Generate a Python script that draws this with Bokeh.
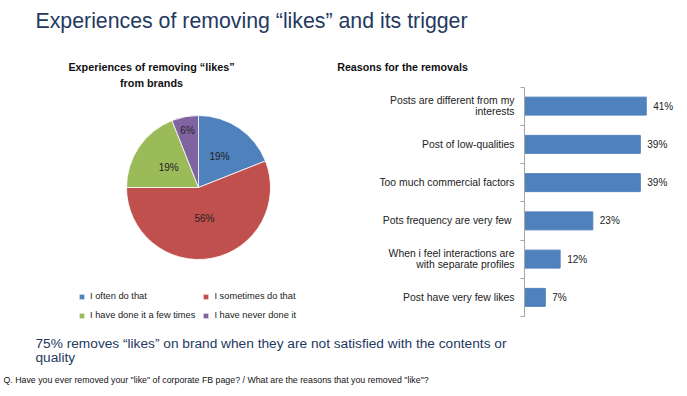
import numpy as np
from bokeh.plotting import figure
from bokeh.models import Range1d, Label, Legend, LegendItem, LinearAxis, FixedTicker, ColumnDataSource
from bokeh.layouts import column, row
from bokeh.embed import file_html
from bokeh.resources import INLINE
from bokeh.core.properties import value

# ---------------- data ----------------
TITLE = "Experiences of removing “likes” and its trigger"
PIE_TITLE = ["Experiences of removing “likes”", "from brands"]
PIE_LABELS = ["I often do that", "I sometimes do that",
              "I have done it a few times", "I have never done it"]
PIE_VALUES = [19, 56, 19, 6]
BAR_TITLE = "Reasons for the removals"
BAR_CATEGORIES = ["Posts are different from my\ninterests",
                  "Post of low-qualities",
                  "Too much commercial factors",
                  "Pots frequency are very few ",
                  "When i feel interactions are\nwith separate profiles",
                  "Post have very few likes"]
BAR_VALUES = [41, 39, 39, 23, 12, 7]
CONCLUSION = ["75% removes “likes” on brand when they are not satisfied with the contents or",
              "quality"]
QUESTION = 'Q. Have you ever removed your "like" of corporate FB page? / What are the reasons that you removed "like"?'

# ---------------- style / layout ----------------
PIE_COLORS = ["#4F81BD", "#C0504D", "#9BBB59", "#8064A2"]
BAR_COLOR = "#4F81BD"
NAVY = "#24395f"
TXT = "#222222"
SANS = "Liberation Sans"
LABEL_R = [0.52, 0.44, 0.5, 0.81]
W = 679
PIE_W = 330
TOP_H, ROW_H, FOOT_H = 76, 254, 58
ROW_BOTTOM = TOP_H + ROW_H          # image y of the row's bottom edge
AXIS_X = 524                        # image x of the bar axis
CAT_TOP, CAT_BOTTOM = 86.5, 316     # image y extent of the category band
X_END = 52.2


def blank(w, h, xr, yr):
    p = figure(width=w, height=h, x_range=xr, y_range=yr,
               x_axis_location=None, y_axis_location=None,
               output_backend="svg", toolbar_location=None,
               min_border=0, outline_line_color=None)
    p.grid.visible = False
    return p


def label(x, y, text, size, color, bold=False, align="left"):
    return Label(x=x, y=y, text=text, text_font=SANS,
                 text_font_style="bold" if bold else "normal",
                 text_font_size=size, text_color=color,
                 text_align=align, text_baseline="middle")

# ---------------- header (titles) ----------------
head = blank(W, TOP_H, Range1d(0, W), Range1d(TOP_H, 0))
head.add_layout(label(35, 20.7, TITLE, "21.3px", NAVY))
head.add_layout(label(151, 66.2, PIE_TITLE[0], "10.8px", "#111111", True, "center"))
head.add_layout(label(402, 66.5, BAR_TITLE, "10.7px", "#111111", True, "center"))

# ---------------- pie ----------------
pie = blank(PIE_W, ROW_H, Range1d(0, PIE_W), Range1d(0, ROW_H))
cx, cy, R = 198, ROW_BOTTOM - 187, 72
vals = np.array(PIE_VALUES, dtype=float)
frac = vals / vals.sum()
cum = np.concatenate([[0], np.cumsum(frac)])
start = np.pi / 2 - 2 * np.pi * cum[:-1]
end = np.pi / 2 - 2 * np.pi * cum[1:]
mid = (start + end) / 2
src = ColumnDataSource(dict(start=start, end=end, color=PIE_COLORS, label=PIE_LABELS))
wr = pie.wedge(x=cx, y=cy, radius=R, start_angle="start", end_angle="end",
               direction="clock", fill_color="color", line_color="white",
               line_width=0.8, source=src)
lab_src = ColumnDataSource(dict(
    x=cx + R * np.array(LABEL_R) * np.cos(mid),
    y=cy + R * np.array(LABEL_R) * np.sin(mid),
    t=[f"{v:g}%" for v in PIE_VALUES]))
pie.text(x="x", y="y", text="t", source=lab_src, text_align="center",
         text_baseline="middle", text_font=value(SANS),
         text_font_size="10px", text_color=TXT)
pie.add_layout(label(151, ROW_BOTTOM - 82.8, PIE_TITLE[1], "10.8px", "#111111", True, "center"))
legend = Legend(items=[LegendItem(label=l, renderers=[wr], index=i)
                       for i, l in enumerate(PIE_LABELS)],
                orientation="horizontal", ncols=2, location=(78, ROW_BOTTOM - 321),
                glyph_width=7, glyph_height=7, label_standoff=5,
                spacing=7, label_height=12, padding=0, margin=0,
                border_line_color=None, background_fill_alpha=0,
                label_text_font=SANS, label_text_font_size="9.3px",
                label_text_color=TXT)
pie.add_layout(legend)

# ---------------- bars ----------------
n = len(BAR_CATEGORIES)
ys = [n - 0.5 - i for i in range(n)]
ppu = (CAT_BOTTOM - CAT_TOP) / n
y_start = -(ROW_BOTTOM - CAT_BOTTOM) / ppu
y_end = n + (CAT_TOP - TOP_H) / ppu
bar = figure(width=W - PIE_W, height=ROW_H, x_range=Range1d(0, X_END),
             y_range=Range1d(y_start, y_end),
             x_axis_location=None, y_axis_location=None,
             output_backend="svg", toolbar_location=None,
             min_border_left=AXIS_X - PIE_W, min_border_right=0,
             min_border_top=0, min_border_bottom=0, outline_line_color=None)
bar.grid.visible = False
bsrc = ColumnDataSource(dict(y=ys, v=BAR_VALUES, t=[f"{v}%" for v in BAR_VALUES]))
bar.hbar(y="y", left=0, right="v", height=0.47, source=bsrc,
         fill_color=BAR_COLOR, line_color=BAR_COLOR)
bar.text(x="v", y="y", text="t", source=bsrc, x_offset=7,
         text_baseline="middle", text_font=value(SANS),
         text_font_size="10px", text_color=TXT)
yaxis = LinearAxis(ticker=FixedTicker(ticks=ys, minor_ticks=list(range(n + 1))),
                   bounds=(0, n),
                   major_label_overrides={y: c for y, c in zip(ys, BAR_CATEGORIES)},
                   major_tick_line_color=None, major_tick_out=0, major_tick_in=0,
                   minor_tick_out=4, minor_tick_in=0,
                   minor_tick_line_color="#a6a6a6", axis_line_color="#a6a6a6",
                   major_label_standoff=6, major_label_text_font=SANS,
                   major_label_text_font_size="10.4px",
                   major_label_text_line_height=1.05,
                   major_label_text_color=TXT)
bar.add_layout(yaxis, "left")

# ---------------- footer ----------------
foot = blank(W, FOOT_H, Range1d(0, W), Range1d(ROW_BOTTOM + FOOT_H, ROW_BOTTOM))
foot.add_layout(label(35, 343.3, CONCLUSION[0], "13.7px", NAVY))
foot.add_layout(label(35, 356.5, CONCLUSION[1], "13.7px", NAVY))
foot.add_layout(label(3, 379, QUESTION, "8.8px", "#111111"))

layout = column(head, row(pie, bar), foot)
open("out.html", "w").write(file_html(layout, INLINE))
